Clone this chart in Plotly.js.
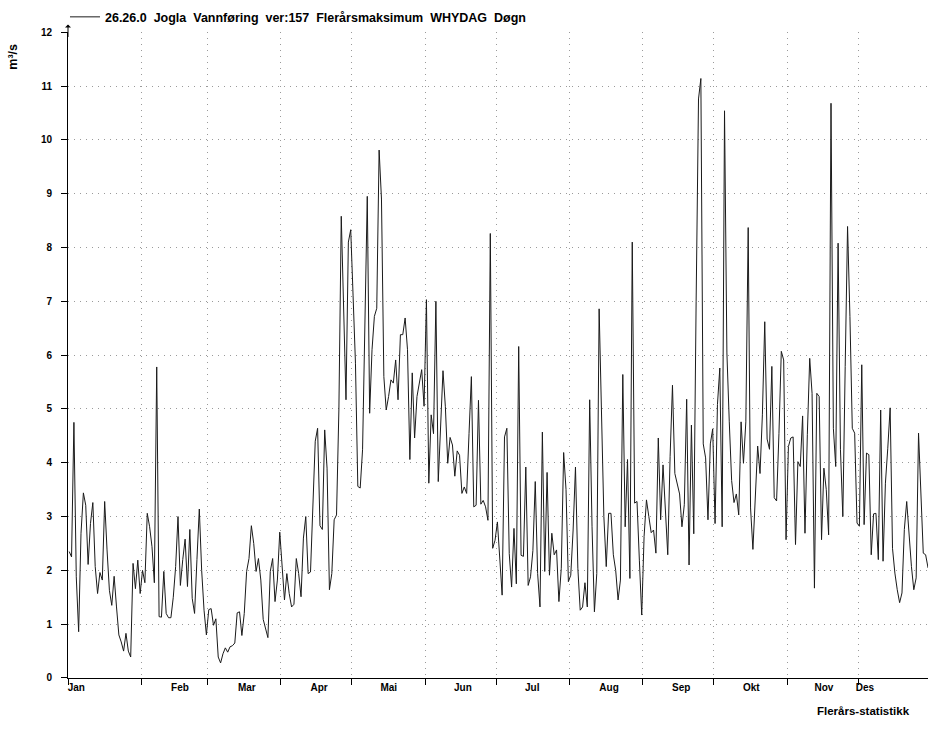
<!DOCTYPE html>
<html><head><meta charset="utf-8">
<script src="https://cdn.plot.ly/plotly-3.0.1.min.js"></script>
<style>html,body{margin:0;padding:0;background:#fff}#chart{width:928px;height:742px}</style>
</head><body><div id="chart"></div>
<script>
// Daily multi-year maximum discharge (m3/s), day 0 = 1 Jan
const flow = [
2.35,2.25,4.75,1.88,0.86,2.69,3.44,3.21,2.11,2.87,3.26,2.07,1.57,1.96,1.82,3.28,2.38,1.63,1.35,1.89,
1.32,0.80,0.67,0.50,0.83,0.50,0.39,2.13,1.66,2.19,1.57,2.00,1.77,3.06,2.81,2.44,1.77,5.78,1.14,1.13,
1.98,1.20,1.12,1.12,1.50,2.07,3.00,1.72,2.20,2.58,1.70,2.76,1.48,1.20,2.20,3.14,2.00,1.26,0.80,1.27,
1.29,0.98,1.10,0.39,0.28,0.45,0.56,0.48,0.58,0.60,0.65,1.21,1.23,0.79,1.20,1.98,2.22,2.83,2.50,1.98,
2.22,1.82,1.09,0.90,0.75,1.98,2.22,1.42,1.82,2.71,2.16,1.45,1.94,1.57,1.32,1.37,2.22,1.94,1.51,2.60,
3.00,1.94,1.97,3.40,4.40,4.64,2.83,2.76,4.61,3.90,1.64,1.94,2.94,3.03,4.98,8.58,6.90,5.17,8.10,8.33,
7.10,5.85,3.56,3.53,4.24,6.80,8.95,4.92,6.10,6.72,6.87,9.81,8.90,5.60,4.98,5.23,5.54,5.48,5.91,5.17,
6.38,6.38,6.69,6.10,4.06,5.67,4.46,5.23,5.48,5.73,5.05,7.03,3.62,4.89,4.54,7.00,3.65,4.85,5.71,5.04,
3.99,4.47,4.33,3.75,4.22,4.14,3.43,3.55,3.43,4.54,5.60,3.18,3.21,5.16,3.23,3.30,3.18,2.93,8.26,2.41,
2.56,2.90,2.19,1.54,4.48,4.64,2.31,1.69,2.78,1.75,6.16,2.28,2.26,3.92,1.72,1.88,2.37,3.65,1.94,1.32,
4.57,1.98,3.82,1.91,2.69,2.29,2.38,1.42,2.04,4.19,3.50,1.79,1.91,2.75,3.92,2.04,1.26,1.32,1.77,1.32,
5.17,2.81,1.23,1.94,6.86,5.05,3.00,2.07,3.06,3.06,2.29,2.00,1.45,1.82,5.64,2.81,4.06,1.85,8.10,3.25,
3.28,2.19,1.17,2.63,3.31,3.00,2.70,2.75,2.32,4.46,2.94,3.96,3.10,2.29,4.12,5.44,3.80,3.61,3.42,2.81,
3.22,5.18,2.10,4.70,2.68,7.00,10.76,11.14,4.35,4.09,2.94,4.35,4.63,2.87,5.08,5.76,2.81,10.54,6.04,4.76,
3.67,3.26,3.42,3.03,4.76,3.99,4.76,8.37,3.16,2.39,3.35,4.31,3.80,4.89,6.62,4.44,4.25,5.79,3.35,3.29,
4.54,6.07,5.91,2.57,4.30,4.46,4.48,2.48,4.02,3.93,4.87,2.69,4.52,5.94,5.29,1.67,5.29,5.23,2.57,3.90,
3.50,2.66,10.68,4.64,3.93,8.08,4.24,3.00,5.79,8.39,6.72,4.64,4.55,2.88,2.82,5.82,2.85,4.18,4.15,2.29,
3.05,3.06,2.20,4.98,2.17,3.62,4.27,5.02,2.41,1.95,1.64,1.40,1.58,2.76,3.28,2.63,2.07,1.64,1.86,4.55,
3.43,2.32,2.29,2.05,2.00
];
const monthStartDays = [0,31,59,90,120,151,181,212,243,273,304,334];
const monthLabelDays = [3.5,47.3,75.6,106.1,135.6,166.9,196.2,228.7,259.2,288.8,319.5,336.8];
const monthLabels = ['Jan','Feb','Mar','Apr','Mai','Jun','Jul','Aug','Sep','Okt','Nov','Des'];
const yTickVals = [0,1,2,3,4,5,6,7,8,9,10,11,12];
const seriesName = '26.26.0\u00a0 Jogla\u00a0 Vannføring\u00a0 ver:157\u00a0 Flerårsmaksimum\u00a0 WHYDAG\u00a0 Døgn';
const yUnit = 'm³/s';
const footer = 'Flerårs-statistikk';

const dayX = flow.map((v, i) => i + 0.5);
const F = 'Liberation Sans, Arial, sans-serif';
const xRange = [0, 363.5];

const traces = [
  {x: dayX, y: flow, type: 'scatter', mode: 'lines', name: seriesName,
   line: {color: '#1a1a1a', width: 1}, hoverinfo: 'skip'},
  {x: [], y: [], xaxis: 'x2', yaxis: 'y', type: 'scatter', mode: 'lines', showlegend: false, hoverinfo: 'skip'}
];

const layout = {
  width: 928, height: 742,
  margin: {l: 68, r: 0, t: 32, b: 64, pad: 0},
  paper_bgcolor: '#fff', plot_bgcolor: '#fff',
  font: {family: F, color: '#000'},
  showlegend: true,
  legend: {x: -0.0035, xanchor: 'left', y: 0.997, yref: 'container', yanchor: 'top',
           orientation: 'h', bgcolor: 'rgba(0,0,0,0)',
           font: {family: F, size: 12.5, color: '#000', weight: 'bold'}},
  xaxis: {range: xRange, tickmode: 'array', tickvals: monthStartDays, showticklabels: false,
          ticks: 'outside', ticklen: 6, tickcolor: '#000', tickwidth: 1,
          showgrid: true, gridcolor: '#9a9a9a', griddash: '1px,5px', gridwidth: 1,
          showline: true, linecolor: '#000', linewidth: 1, zeroline: false, fixedrange: true},
  xaxis2: {range: xRange, overlaying: 'x', anchor: 'y', side: 'bottom', tickmode: 'array',
           tickvals: monthLabelDays, ticktext: monthLabels, ticks: '', showgrid: false,
           showline: false, zeroline: false, ticklabelstandoff: 2,
           tickfont: {family: F, size: 10, color: '#000', weight: 'bold'}},
  yaxis: {range: [0, 12], tickmode: 'array', tickvals: yTickVals,
          ticks: 'outside', ticklen: 6, tickcolor: '#000', tickwidth: 1, ticklabelstandoff: 7,
          tickfont: {family: F, size: 10, color: '#000', weight: 'bold'},
          showgrid: true, gridcolor: '#9a9a9a', griddash: '1px,5px', gridwidth: 1,
          showline: true, linecolor: '#000', linewidth: 1, zeroline: false, fixedrange: true},
  annotations: [
    {text: yUnit, xref: 'paper', yref: 'paper', x: -0.064, y: 0.962, xanchor: 'center', yanchor: 'middle',
     textangle: -90, showarrow: false, font: {family: F, size: 12.5, color: '#000', weight: 'bold'}},
    {text: footer, xref: 'paper', yref: 'paper', x: 0.9814, y: -0.051, xanchor: 'right', yanchor: 'middle',
     showarrow: false, font: {family: F, size: 11.5, color: '#000', weight: 'bold'}},
    {text: '', xref: 'paper', yref: 'paper', x: 0, y: 1.012, showarrow: true, arrowhead: 1,
     arrowsize: 1, arrowwidth: 1, arrowcolor: '#000', ax: 0, ay: 14, standoff: 0}
  ]
};

Plotly.newPlot('chart', traces, layout, {displayModeBar: false, staticPlot: true});
</script></body></html>
